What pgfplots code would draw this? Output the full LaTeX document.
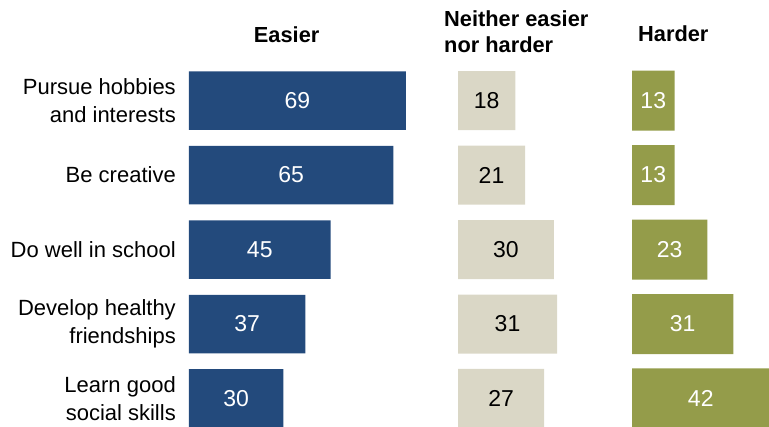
\documentclass[border=0pt]{standalone}
\usepackage{pgfplots}
\usepackage{pgfplotstable}
\pgfplotsset{compat=1.18}
\usepackage{fontspec}
\setmainfont{Liberation Sans}
\definecolor{cEasy}{RGB}{35,74,124}
\definecolor{cNeither}{RGB}{218,215,198}
\definecolor{cHard}{RGB}{148,156,74}
\pgfplotstableread{
y easier neither harder
0 69 18 13
1 65 21 13
2 45 30 23
3 37 31 31
4 30 27 42
}\data
\pgfplotsset{panel/.style={
  scale only axis, height=363.7pt, y dir=reverse,
  ymin=-0.5, ymax=4.3826, xmin=0,
  axis line style={draw=none}, xtick=\empty, ytick=\empty,
  major tick length=0pt, tick style={draw=none}, clip=false,
  anchor=south west,
  /pgf/number format/assume math mode=true,
  title style={font=\fontsize{21.8}{25}\selectfont\bfseries, anchor=base},
}}
\begin{document}
\begin{tikzpicture}
% Easier
\begin{axis}[panel, at={(189pt,0pt)}, width=217pt, xmax=69,
  ytick={0,1,2,3,4},
  yticklabels={{Pursue hobbies\\and interests},{Be creative},{Do well in school},{Develop healthy\\friendships},{Learn good\\social skills}},
  yticklabel style={align=right, font=\fontsize{22}{27.5}\selectfont, inner sep=0pt, xshift=-13pt},
  title={Easier}, title style={at={(0.45,1)}, yshift=14.5pt}]
\addplot[xbar, bar width=58.5pt, fill=cEasy, draw=none] table[x=easier, y=y]{\data};
\addplot[draw=none, mark=none, nodes near coords, point meta=explicit,
  every node near coord/.append style={anchor=center, text=white, font=\fontsize{23}{25}\selectfont}]
  table[x expr=\thisrow{easier}/2, y=y, meta=easier]{\data};
\end{axis}
% Neither
\begin{axis}[panel, at={(458pt,0pt)}, width=99pt, xmax=31]
\addplot[xbar, bar width=59pt, fill=cNeither, draw=none] table[x=neither, y=y]{\data};
\addplot[draw=none, mark=none, nodes near coords, point meta=explicit,
  every node near coord/.append style={anchor=center, text=black, font=\fontsize{23}{25}\selectfont}]
  table[x expr=\thisrow{neither}/2, y=y, meta=neither]{\data};
\end{axis}
% Harder
\begin{axis}[panel, at={(632pt,0pt)}, width=137.5pt, xmax=42]
\addplot[xbar, bar width=60pt, fill=cHard, draw=none] table[x=harder, y=y]{\data};
\addplot[draw=none, mark=none, nodes near coords, point meta=explicit,
  every node near coord/.append style={anchor=center, text=white, font=\fontsize{23}{25}\selectfont}]
  table[x expr=\thisrow{harder}/2, y=y, meta=harder]{\data};
\end{axis}
\node[anchor=base west, align=left, inner sep=0pt, font=\fontsize{21.8}{26}\selectfont\bfseries] at (444pt,374pt) {Neither easier\\nor harder};
\node[anchor=base west, inner sep=0pt, font=\fontsize{21.8}{25}\selectfont\bfseries] at (638pt,385pt) {Harder};
\pgfresetboundingbox
\useasboundingbox (0pt,0pt) rectangle (769pt,427pt);
\end{tikzpicture}
\end{document}
